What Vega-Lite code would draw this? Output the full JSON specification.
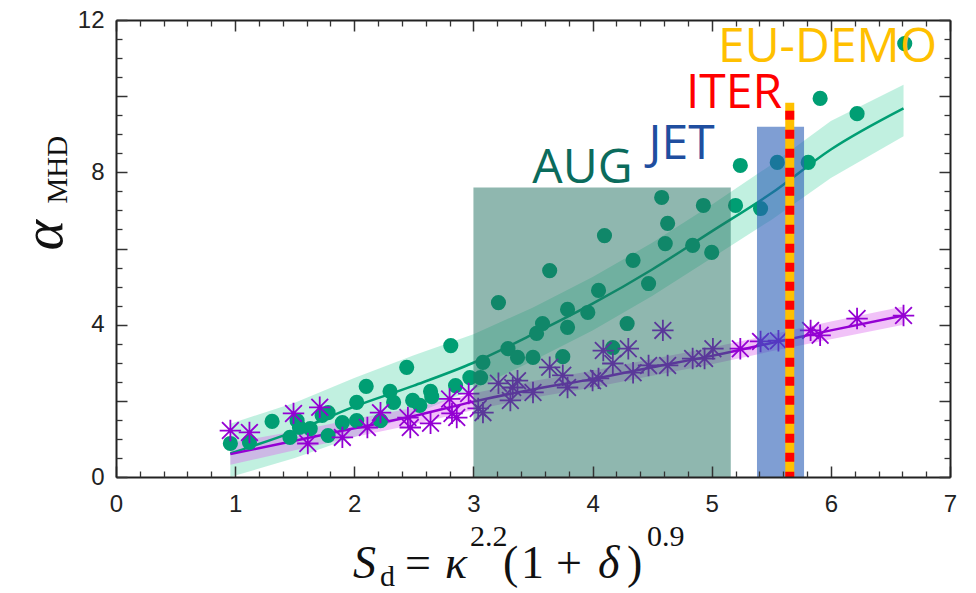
{
  "$schema": "https://vega.github.io/schema/vega-lite/v6.json",
  "width": 834,
  "height": 457,
  "autosize": {"type": "none"},
  "padding": {"left": 116, "top": 20, "right": 26, "bottom": 116},
  "background": "white",
  "config": {"view": {"stroke": null}, "axis": {"grid": false, "title": null}},
  "resolve": {"axis": {"x": "independent", "y": "independent"}},
  "datasets": {
    "green": [
      {"s": 0.96, "a": 0.88}, {"s": 1.12, "a": 0.91}, {"s": 1.31, "a": 1.46}, {"s": 1.46, "a": 1.04}, {"s": 1.52, "a": 1.48},
      {"s": 1.54, "a": 1.3}, {"s": 1.63, "a": 1.27}, {"s": 1.73, "a": 1.62}, {"s": 1.78, "a": 1.69}, {"s": 1.78, "a": 1.09},
      {"s": 1.9, "a": 1.43}, {"s": 2.02, "a": 1.96}, {"s": 2.02, "a": 1.48}, {"s": 2.1, "a": 2.38}, {"s": 2.22, "a": 1.48},
      {"s": 2.3, "a": 2.25}, {"s": 2.33, "a": 1.96}, {"s": 2.44, "a": 2.88}, {"s": 2.49, "a": 2.01}, {"s": 2.55, "a": 1.88},
      {"s": 2.64, "a": 2.25}, {"s": 2.65, "a": 2.11}, {"s": 2.81, "a": 3.45}, {"s": 2.85, "a": 2.4}, {"s": 2.97, "a": 2.61},
      {"s": 3.06, "a": 2.61}, {"s": 3.08, "a": 3.01}, {"s": 3.21, "a": 4.58}, {"s": 3.29, "a": 3.37}, {"s": 3.37, "a": 3.14},
      {"s": 3.5, "a": 3.14}, {"s": 3.53, "a": 3.77}, {"s": 3.58, "a": 4.03}, {"s": 3.64, "a": 5.42}, {"s": 3.75, "a": 3.16},
      {"s": 3.79, "a": 4.4}, {"s": 3.79, "a": 3.93}, {"s": 3.96, "a": 4.32}, {"s": 4.05, "a": 4.9}, {"s": 4.1, "a": 6.34},
      {"s": 4.17, "a": 3.4}, {"s": 4.29, "a": 4.03}, {"s": 4.34, "a": 5.69}, {"s": 4.47, "a": 5.08}, {"s": 4.58, "a": 7.34},
      {"s": 4.61, "a": 6.13}, {"s": 4.63, "a": 6.66}, {"s": 4.84, "a": 6.08}, {"s": 4.93, "a": 7.13}, {"s": 5.0, "a": 5.9},
      {"s": 5.2, "a": 7.13}, {"s": 5.24, "a": 8.18}, {"s": 5.41, "a": 7.05}, {"s": 5.55, "a": 8.26}, {"s": 5.81, "a": 8.26},
      {"s": 5.91, "a": 9.94}, {"s": 6.22, "a": 9.54}, {"s": 6.62, "a": 11.38}
    ],
    "purple": [
      {"s": 0.96, "a": 1.22}, {"s": 1.12, "a": 1.17}, {"s": 1.49, "a": 1.67}, {"s": 1.61, "a": 0.88}, {"s": 1.71, "a": 1.83},
      {"s": 1.9, "a": 1.04}, {"s": 2.11, "a": 1.3}, {"s": 2.22, "a": 1.69}, {"s": 2.45, "a": 1.56}, {"s": 2.47, "a": 1.3},
      {"s": 2.64, "a": 1.41}, {"s": 2.8, "a": 2.05}, {"s": 2.82, "a": 1.67}, {"s": 2.86, "a": 1.56}, {"s": 2.96, "a": 2.19},
      {"s": 3.04, "a": 1.8}, {"s": 3.08, "a": 1.69}, {"s": 3.21, "a": 2.46}, {"s": 3.31, "a": 2.01}, {"s": 3.33, "a": 2.35},
      {"s": 3.37, "a": 2.53}, {"s": 3.5, "a": 2.22}, {"s": 3.64, "a": 2.88}, {"s": 3.75, "a": 2.67}, {"s": 3.79, "a": 2.35},
      {"s": 4.0, "a": 2.53}, {"s": 4.05, "a": 2.59}, {"s": 4.09, "a": 3.32}, {"s": 4.17, "a": 2.98}, {"s": 4.3, "a": 3.37},
      {"s": 4.34, "a": 2.74}, {"s": 4.47, "a": 2.93}, {"s": 4.59, "a": 3.85}, {"s": 4.63, "a": 2.93}, {"s": 4.84, "a": 3.11},
      {"s": 4.94, "a": 3.11}, {"s": 5.01, "a": 3.37}, {"s": 5.24, "a": 3.37}, {"s": 5.41, "a": 3.56}, {"s": 5.56, "a": 3.58},
      {"s": 5.83, "a": 3.85}, {"s": 5.91, "a": 3.72}, {"s": 6.22, "a": 4.16}, {"s": 6.61, "a": 4.24}
    ],
    "greenfit": [
      {"s": 0.96, "a": 0.62, "lo": 0.0, "hi": 1.4}, {"s": 1.5, "a": 1.2, "lo": 0.5, "hi": 1.95}, {"s": 2.0, "a": 1.85, "lo": 1.05, "hi": 2.6},
      {"s": 2.5, "a": 2.4, "lo": 1.65, "hi": 3.2}, {"s": 3.0, "a": 3.0, "lo": 2.3, "hi": 3.75}, {"s": 3.5, "a": 3.75, "lo": 3.05, "hi": 4.45},
      {"s": 4.0, "a": 4.55, "lo": 3.85, "hi": 5.25}, {"s": 4.5, "a": 5.45, "lo": 4.75, "hi": 6.15}, {"s": 5.0, "a": 6.45, "lo": 5.75, "hi": 7.15},
      {"s": 5.5, "a": 7.45, "lo": 6.75, "hi": 8.2}, {"s": 6.0, "a": 8.6, "lo": 7.85, "hi": 9.35}, {"s": 6.61, "a": 9.68, "lo": 8.95, "hi": 10.3}
    ],
    "purplefit": [
      {"s": 0.96, "a": 0.6, "lo": 0.32, "hi": 0.9}, {"s": 1.5, "a": 0.95, "lo": 0.7, "hi": 1.2}, {"s": 2.0, "a": 1.28, "lo": 1.05, "hi": 1.52},
      {"s": 2.5, "a": 1.6, "lo": 1.38, "hi": 1.82}, {"s": 3.0, "a": 1.98, "lo": 1.76, "hi": 2.2}, {"s": 3.5, "a": 2.3, "lo": 2.08, "hi": 2.52},
      {"s": 4.0, "a": 2.57, "lo": 2.35, "hi": 2.79}, {"s": 4.5, "a": 2.88, "lo": 2.66, "hi": 3.1}, {"s": 5.0, "a": 3.18, "lo": 2.96, "hi": 3.4},
      {"s": 5.5, "a": 3.52, "lo": 3.3, "hi": 3.74}, {"s": 6.0, "a": 3.85, "lo": 3.62, "hi": 4.08}, {"s": 6.61, "a": 4.24, "lo": 4.0, "hi": 4.48}
    ]
  },
  "layer": [
    {
      "data": {"name": "greenfit"},
      "mark": {"type": "area", "color": "#33cc99", "opacity": 0.3},
      "encoding": {
        "x": {"field": "s", "type": "quantitative", "scale": {"domain": [0, 7], "nice": false, "zero": false},
          "axis": {"orient": "bottom", "values": [0, 1, 2, 3, 4, 5, 6, 7], "ticks": false, "domain": false, "labelFont": "Liberation Sans", "labelFontSize": 24, "labelColor": "#222", "labelPadding": 15, "labelFlush": false, "labelOverlap": false, "format": "d"}},
        "y": {"field": "lo", "type": "quantitative", "scale": {"domain": [0, 12], "nice": false, "zero": false},
          "axis": {"orient": "left", "values": [0, 4, 8, 12], "ticks": false, "domain": false, "labelFont": "Liberation Sans", "labelFontSize": 24, "labelColor": "#222", "labelPadding": 12, "labelFlush": false, "labelOverlap": false, "format": "d"}},
        "y2": {"field": "hi"}
      }
    },
    {
      "data": {"name": "purplefit"},
      "mark": {"type": "area", "color": "#dd66ee", "opacity": 0.4},
      "encoding": {
        "x": {"field": "s", "type": "quantitative",
          "axis": {"orient": "bottom", "values": [0, 1, 2, 3, 4, 5, 6, 7], "labels": false, "tickSize": -11, "tickWidth": 1.5, "tickColor": "#333", "domain": true, "domainColor": "#222", "domainWidth": 2, "zindex": 1}},
        "y": {"field": "lo", "type": "quantitative",
          "axis": {"orient": "left", "values": [0, 2, 4, 6, 8, 10, 12], "labels": false, "tickSize": -11, "tickWidth": 1.5, "tickColor": "#333", "domain": true, "domainColor": "#222", "domainWidth": 2, "zindex": 1}},
        "y2": {"field": "hi"}
      }
    },
    {
      "data": {"name": "greenfit"},
      "mark": {"type": "line", "color": "#009e73", "strokeWidth": 2.5, "interpolate": "monotone"},
      "encoding": {
        "x": {"field": "s", "type": "quantitative",
          "axis": {"orient": "bottom", "values": [0.2, 0.4, 0.6, 0.8, 1.2, 1.4, 1.6, 1.8, 2.2, 2.4, 2.6, 2.8, 3.2, 3.4, 3.6, 3.8, 4.2, 4.4, 4.6, 4.8, 5.2, 5.4, 5.6, 5.8, 6.2, 6.4, 6.6, 6.8], "labels": false, "domain": false, "tickSize": -6, "tickWidth": 1.3, "tickColor": "#333", "zindex": 1}},
        "y": {"field": "a", "type": "quantitative",
          "axis": {"orient": "left", "values": [0.5, 1, 1.5, 2.5, 3, 3.5, 4.5, 5, 5.5, 6.5, 7, 7.5, 8.5, 9, 9.5, 10.5, 11, 11.5], "labels": false, "domain": false, "tickSize": -6, "tickWidth": 1.3, "tickColor": "#333", "zindex": 1}}
      }
    },
    {
      "data": {"name": "purplefit"},
      "mark": {"type": "line", "color": "#9400d3", "strokeWidth": 2.5, "interpolate": "monotone"},
      "encoding": {
        "x": {"field": "s", "type": "quantitative",
          "axis": {"orient": "top", "values": [0, 1, 2, 3, 4, 5, 6, 7], "labels": false, "tickSize": -11, "tickWidth": 1.5, "tickColor": "#333", "domain": true, "domainColor": "#222", "domainWidth": 2, "zindex": 1}},
        "y": {"field": "a", "type": "quantitative",
          "axis": {"orient": "right", "values": [0, 2, 4, 6, 8, 10, 12], "labels": false, "tickSize": -11, "tickWidth": 1.5, "tickColor": "#333", "domain": true, "domainColor": "#222", "domainWidth": 2, "zindex": 1}}
      }
    },
    {
      "data": {"name": "green"},
      "mark": {"type": "point", "shape": "circle", "filled": true, "color": "#009e73", "opacity": 1, "size": 230},
      "encoding": {
        "x": {"field": "s", "type": "quantitative",
          "axis": {"orient": "top", "values": [0.2, 0.4, 0.6, 0.8, 1.2, 1.4, 1.6, 1.8, 2.2, 2.4, 2.6, 2.8, 3.2, 3.4, 3.6, 3.8, 4.2, 4.4, 4.6, 4.8, 5.2, 5.4, 5.6, 5.8, 6.2, 6.4, 6.6, 6.8], "labels": false, "domain": false, "tickSize": -6, "tickWidth": 1.3, "tickColor": "#333", "zindex": 1}},
        "y": {"field": "a", "type": "quantitative",
          "axis": {"orient": "right", "values": [0.5, 1, 1.5, 2.5, 3, 3.5, 4.5, 5, 5.5, 6.5, 7, 7.5, 8.5, 9, 9.5, 10.5, 11, 11.5], "labels": false, "domain": false, "tickSize": -6, "tickWidth": 1.3, "tickColor": "#333", "zindex": 1}}
      }
    },
    {
      "data": {"name": "purple"},
      "mark": {"type": "point", "shape": "M-1,0L1,0M0,-1L0,1M-0.78,-0.78L0.78,0.78M-0.78,0.78L0.78,-0.78", "filled": false, "color": "#9400d3", "opacity": 1, "size": 460, "strokeWidth": 1.8},
      "encoding": {
        "x": {"field": "s", "type": "quantitative", "axis": null},
        "y": {"field": "a", "type": "quantitative", "axis": null}
      }
    },
    {
      "data": {"values": [{"x0": 3.0, "x1": 5.16, "y0": 0, "y1": 7.6}]},
      "mark": {"type": "rect", "color": "#1f6f60", "opacity": 0.5},
      "encoding": {
        "x": {"field": "x0", "type": "quantitative", "axis": null},
        "x2": {"field": "x1"},
        "y": {"field": "y0", "type": "quantitative", "axis": null},
        "y2": {"field": "y1"}
      }
    },
    {
      "data": {"values": [{"x0": 5.38, "x1": 5.775, "y0": 0, "y1": 9.2}]},
      "mark": {"type": "rect", "color": "#2a5db5", "opacity": 0.6},
      "encoding": {
        "x": {"field": "x0", "type": "quantitative", "axis": null},
        "x2": {"field": "x1"},
        "y": {"field": "y0", "type": "quantitative", "axis": null},
        "y2": {"field": "y1"}
      }
    },
    {
      "data": {"values": [{"x": 5.655, "y0": 9.83, "y1": 0}]},
      "mark": {"type": "rule", "color": "#ffc000", "strokeWidth": 9},
      "encoding": {
        "x": {"field": "x", "type": "quantitative", "axis": null},
        "y": {"field": "y0", "type": "quantitative", "axis": null},
        "y2": {"field": "y1"}
      }
    },
    {
      "data": {"values": [{"x": 5.655, "y0": 9.83, "y1": 0}]},
      "mark": {"type": "rule", "color": "#ff0000", "strokeWidth": 9, "strokeDash": [9, 10], "strokeDashOffset": 11},
      "encoding": {
        "x": {"field": "x", "type": "quantitative", "axis": null},
        "y": {"field": "y0", "type": "quantitative", "axis": null},
        "y2": {"field": "y1"}
      }
    },
    {
      "data": {"values": [
        {"label": "AUG", "x": 3.915, "y": 7.73},
        {"label": "JET", "x": 4.747, "y": 8.36},
        {"label": "ITER", "x": 5.187, "y": 9.68},
        {"label": "EU-DEMO", "x": 5.972, "y": 10.9}
      ]},
      "mark": {"type": "text", "font": "Open Sans", "fontSize": 48, "align": "center", "baseline": "alphabetic"},
      "encoding": {
        "x": {"field": "x", "type": "quantitative", "axis": null},
        "y": {"field": "y", "type": "quantitative", "axis": null},
        "text": {"field": "label"},
        "color": {"field": "label", "type": "nominal", "legend": null,
          "scale": {"domain": ["AUG", "JET", "ITER", "EU-DEMO"], "range": ["#0b6b5c", "#1f4e9f", "#ff0000", "#ffc000"]}}
      }
    },
    {
      "data": {"values": [
        {"t": "S", "x": 1.989, "y": -2.64},
        {"t": "κ", "x": 2.761, "y": -2.64},
        {"t": "δ", "x": 4.046, "y": -2.64}
      ]},
      "mark": {"type": "text", "font": "Liberation Serif", "fontSize": 46, "fontStyle": "italic", "align": "left", "baseline": "alphabetic", "color": "#111"},
      "encoding": {
        "x": {"field": "x", "type": "quantitative", "axis": null},
        "y": {"field": "y", "type": "quantitative", "axis": null},
        "text": {"field": "t"}
      }
    },
    {
      "data": {"values": [
        {"t": "=", "x": 2.426, "y": -2.64},
        {"t": "(", "x": 3.248, "y": -2.64},
        {"t": "1", "x": 3.399, "y": -2.64},
        {"t": "+", "x": 3.693, "y": -2.64},
        {"t": ")", "x": 4.289, "y": -2.64}
      ]},
      "mark": {"type": "text", "font": "Liberation Serif", "fontSize": 46, "align": "left", "baseline": "alphabetic", "color": "#111"},
      "encoding": {
        "x": {"field": "x", "type": "quantitative", "axis": null},
        "y": {"field": "y", "type": "quantitative", "axis": null},
        "text": {"field": "t"}
      }
    },
    {
      "data": {"values": [
        {"t": "d", "x": 2.216, "y": -2.85},
        {"t": "2.2", "x": 2.971, "y": -1.8},
        {"t": "0.9", "x": 4.457, "y": -1.8}
      ]},
      "mark": {"type": "text", "font": "Liberation Serif", "fontSize": 30, "align": "left", "baseline": "alphabetic", "color": "#111"},
      "encoding": {
        "x": {"field": "x", "type": "quantitative", "axis": null},
        "y": {"field": "y", "type": "quantitative", "axis": null},
        "text": {"field": "t"}
      }
    },
    {
      "data": {"values": [{"t": "α", "x": -0.453, "y": 5.95}]},
      "mark": {"type": "text", "font": "Liberation Serif", "fontSize": 58, "fontStyle": "italic", "angle": 270, "align": "left", "baseline": "alphabetic", "color": "#111"},
      "encoding": {
        "x": {"field": "x", "type": "quantitative", "axis": null},
        "y": {"field": "y", "type": "quantitative", "axis": null},
        "text": {"field": "t"}
      }
    },
    {
      "data": {"values": [{"t": "MHD", "x": -0.411, "y": 7.18}]},
      "mark": {"type": "text", "font": "Liberation Serif", "fontSize": 29, "angle": 270, "align": "left", "baseline": "alphabetic", "color": "#111"},
      "encoding": {
        "x": {"field": "x", "type": "quantitative", "axis": null},
        "y": {"field": "y", "type": "quantitative", "axis": null},
        "text": {"field": "t"}
      }
    }
  ]
}
